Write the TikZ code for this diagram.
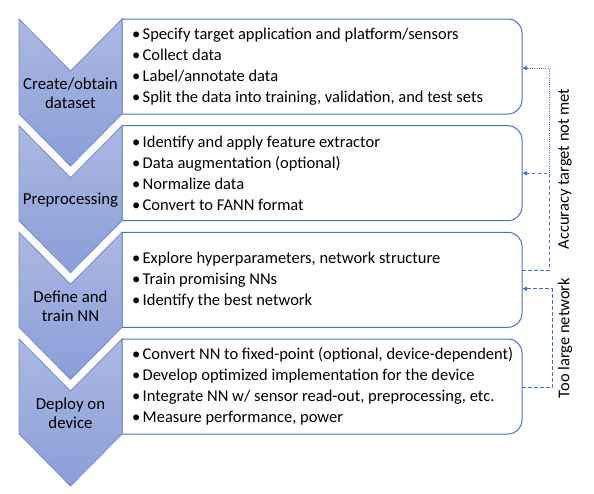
\documentclass[tikz,border=0pt]{standalone}
\usepackage{fontspec}
\setmainfont{Carlito}
\usetikzlibrary{arrows.meta,calc}
\definecolor{chevtop}{RGB}{172,184,226}
\definecolor{chevbot}{RGB}{138,158,216}
\definecolor{chevline}{RGB}{116,140,206}
\definecolor{boxline}{RGB}{68,114,196}
\newcommand\itm[1]{\makebox[10.5pt][l]{•}#1}
\newcommand\rbox[1]{%
  \draw[boxborder] (#1.north west) -- ([xshift=-14pt]#1.north east)
    arc[start angle=-90,end angle=0,radius=14]
    -- ([yshift=14pt]#1.south east)
    arc[start angle=0,end angle=90,radius=14]
    -- (#1.south west) -- cycle;}
\tikzset{
  chev/.style={top color=chevtop,bottom color=chevbot,draw=chevline,line width=0.8pt},
  boxarea/.style={minimum width=400pt,minimum height=95pt,inner sep=0pt,outer sep=0pt,anchor=north west},
  boxborder/.style={draw=boxline,line width=1pt,fill=white},
  items/.style={anchor=west,align=left,inner sep=0pt,font=\fontsize{16.5}{21}\selectfont},
  lab/.style={align=center,inner sep=0pt,font=\fontsize{16.8}{19.5}\selectfont},
  fb/.style={draw=boxline,line width=0.9pt,-{Latex[length=5pt,width=5pt]}},
  fbdash/.style={dash pattern=on 3.5pt off 2.5pt},
  fbdot/.style={dash pattern=on 1pt off 1.2pt},
  side/.style={rotate=90,inner sep=0pt,font=\fontsize{16.5}{19}\selectfont},
}
\begin{document}
\begin{tikzpicture}[x=1pt,y=-1pt]
\useasboundingbox (0,0) rectangle (594,493);
% boxes
\foreach \t [count=\i] in {19,125.7,232.3,339}{
  \node[boxarea] (b\i) at (122,\t) {};
  \rbox{b\i}
}
% chevrons
\foreach \t in {19,125.7,232.3,339}{
  \shade[chev] (19,\t) -- (70.5,\t+52) -- (122,\t) -- (122,\t+95)
     -- (70.5,\t+147) -- (19,\t+95) -- cycle;
}
% chevron labels
\node[lab] (l1) at (70.5,93) {Create/obtain\\dataset};
\node[lab] (l2) at (70.5,199.7) {Preprocessing};
\node[lab] (l3) at (70.5,306.3) {Define and\\train NN};
\node[lab] (l4) at (70.5,413) {Deploy on\\device};
% items
\node[items] (t1) at ([xshift=10pt]b1.west) {\itm{Specify target application and platform/sensors}\\\itm{Collect data}\\\itm{Label/annotate data}\\\itm{Split the data into training, validation, and test sets}};
\node[items] (t2) at ([xshift=10pt]b2.west) {\itm{Identify and apply feature extractor}\\\itm{Data augmentation (optional)}\\\itm{Normalize data}\\\itm{Convert to FANN format}};
\node[items] (t3) at ([xshift=10pt]b3.west) {\itm{Explore hyperparameters, network structure}\\\itm{Train promising NNs}\\\itm{Identify the best network}};
\node[items] (t4) at ([xshift=10pt]b4.west) {\itm{Convert NN to fixed-point (optional, device-dependent)}\\\itm{Develop optimized implementation for the device}\\\itm{Integrate NN w/ sensor read-out, preprocessing, etc.}\\\itm{Measure performance, power}};
% feedback connectors
\coordinate (j1) at ($(b2.east)+(27,0)$);
\coordinate (j2) at ($(b4.east)+(30,0)$);
\draw[fb,fbdash] ([yshift=9.5pt]b3.east) -| (j1) -- (b2.east);
\draw[fb,fbdot] (j1) |- ([yshift=-1.5pt]b1.east);
\draw[fb,fbdash] ([yshift=-1pt]b4.east) -- ([yshift=-1pt]j2) |- ([yshift=-9pt]b3.east);
\node[side] (acc) at (565,169) {Accuracy target not met};
\node[side] (tln) at (565,338) {Too large network};
\end{tikzpicture}
\end{document}
